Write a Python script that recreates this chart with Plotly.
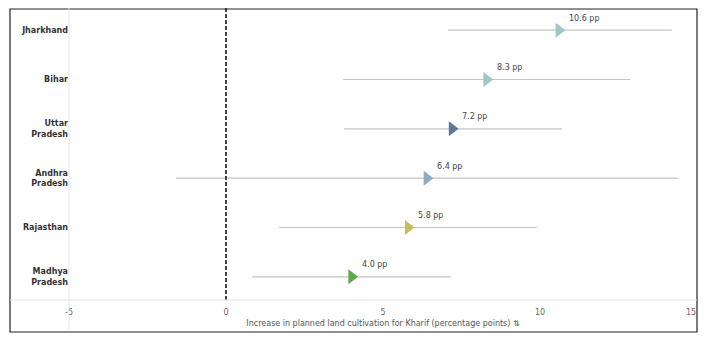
import plotly.graph_objects as go

states = ["Jharkhand", "Bihar", "Uttar<br>Pradesh", "Andhra<br>Pradesh", "Rajasthan", "Madhya<br>Pradesh"]
estimate = [10.6, 8.3, 7.2, 6.4, 5.8, 4.0]
ci_low = [7.07, 3.73, 3.76, -1.6, 1.69, 0.83]
ci_high = [14.2, 12.87, 10.7, 14.4, 9.9, 7.17]
colors = ["#9ec8c3", "#9ec8c3", "#5b7898", "#8eaac5", "#c8bf5c", "#5ea74e"]
x_ticks = [-5, 0, 5, 10, 15]

# page has an 8px body margin; figure coordinates are page - 8
W, H = 699, 333
ml, mr, mt, mb = 61, 10, 0, 41
pw, ph = W - ml - mr, H - mt - mb

def px_x(p):
    return (p - 8 - ml) / pw

def px_y(p):
    return (H - mb - (p - 8)) / ph

fig = go.Figure()
ys = list(range(len(states)))
for i in ys:
    fig.add_trace(go.Scatter(
        x=[ci_low[i], ci_high[i]], y=[i, i], mode="lines",
        line=dict(color="#c4c4c4", width=1.2), hoverinfo="skip", showlegend=False))
fig.add_trace(go.Scatter(
    x=estimate, y=ys, mode="markers",
    marker=dict(symbol="triangle-right", size=13, color=colors, line=dict(width=0)),
    showlegend=False))

for i in ys:
    fig.add_annotation(x=estimate[i], y=i, text=f"{estimate[i]:.1f} pp", showarrow=False,
                       xanchor="left", yanchor="middle", xshift=8, yshift=12,
                       font=dict(family="DejaVu Sans", size=8, color="#444444"))

tick_font = dict(family="DejaVu Sans", size=8, color="#666666")
# last tick label placed inside the frame (as in the original)
fig.add_annotation(x=x_ticks[-1], y=0, yref="paper", text=str(x_ticks[-1]), showarrow=False,
                   xanchor="right", yanchor="top", xshift=1, yshift=-6, font=tick_font)

# zero dashed line
fig.add_shape(type="line", xref="x", yref="paper", x0=0, x1=0, y0=0, y1=1,
              line=dict(color="#444444", width=2, dash="4px,2px"))
# outer border
fig.add_shape(type="rect", xref="paper", yref="paper",
              x0=px_x(10), x1=px_x(697), y0=px_y(332), y1=px_y(9),
              line=dict(color="#222222", width=1.2))
# baseline
fig.add_shape(type="line", xref="paper", yref="paper",
              x0=px_x(10), x1=px_x(697), y0=0, y1=0,
              line=dict(color="#e2e2e2", width=1))
# left separator (gridline at -5)
fig.add_shape(type="line", xref="paper", yref="paper",
              x0=0, x1=0, y0=px_y(330), y1=1,
              line=dict(color="#e6e6e6", width=1))

fig.update_layout(
    width=W, height=H, margin=dict(l=ml, r=mr, t=mt, b=mb),
    plot_bgcolor="white", paper_bgcolor="white",
    xaxis=dict(range=[-5, 15], tickvals=x_ticks[:-1], ticktext=[str(v) for v in x_ticks[:-1]],
               showgrid=False, zeroline=False, showline=False,
               tickfont=tick_font,
               ticks="", ticklabelstandoff=6,
               title=dict(text="Increase in planned land cultivation for Kharif (percentage points) \u21c5",
                          font=dict(family="DejaVu Sans", size=8, color="#555555"), standoff=4)),
    yaxis=dict(range=[5.47, -0.45], tickvals=ys, ticktext=states,
               showgrid=False, zeroline=False, showline=False, ticks="",
               tickfont=dict(family="DejaVu Sans", size=8, color="#333333", weight="bold")),
)

fig.write_html("out.html")
